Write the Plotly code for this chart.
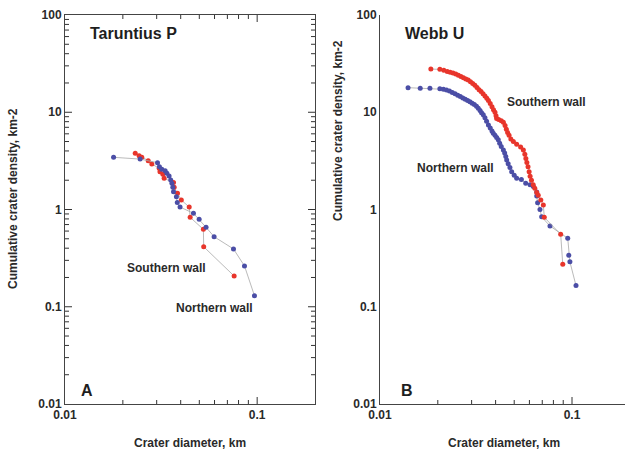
import plotly.graph_objects as go

# Panel A: Taruntius P
a_south_d = [0.0232, 0.0243, 0.0251, 0.0271, 0.0283, 0.0309, 0.0312, 0.0323, 0.0328,
             0.0367, 0.0370, 0.0385, 0.0403, 0.0443, 0.0448, 0.0525, 0.0527, 0.0759]
a_south_n = [3.78, 3.57, 3.44, 3.18, 2.94, 2.65, 2.45, 2.30, 2.09,
             1.89, 1.69, 1.47, 1.25, 1.06, 0.831, 0.625, 0.414, 0.207]
a_north_d = [0.0179, 0.0246, 0.0303, 0.0310, 0.0319, 0.0332, 0.0339, 0.0348, 0.0355,
             0.0360, 0.0364, 0.0367, 0.0380, 0.0384, 0.0397, 0.0466, 0.0499, 0.0542,
             0.0597, 0.0753, 0.0859, 0.0968]
a_north_n = [3.44, 3.30, 3.03, 2.75, 2.59, 2.51, 2.36, 2.21, 2.01,
             1.86, 1.69, 1.52, 1.35, 1.18, 1.06, 0.914, 0.793, 0.656,
             0.525, 0.393, 0.263, 0.130]

# Panel B: Webb U
b_south_d = [0.0184, 0.0205, 0.0215, 0.0224, 0.0232, 0.0240, 0.0248, 0.0256, 0.0264,
             0.0272, 0.0280, 0.0288, 0.0296, 0.0304, 0.0312, 0.0320, 0.0328, 0.0336,
             0.0344, 0.0352, 0.0360, 0.0367, 0.0375, 0.0383, 0.0390, 0.0397, 0.0402,
             0.0405, 0.0415, 0.0428, 0.0439, 0.0448, 0.0455, 0.0462, 0.0470, 0.0480,
             0.0495, 0.0515, 0.0540, 0.0558, 0.0568, 0.0575, 0.0582, 0.0590, 0.0598,
             0.0605, 0.0615, 0.0628, 0.0640, 0.0655, 0.0667, 0.0688, 0.0709, 0.0717,
             0.0873, 0.0895]
b_south_n = [27.8, 27.6, 27.0, 26.3, 25.8, 25.3, 24.8, 24.0, 23.3,
             22.6, 22.0, 21.4, 20.6, 19.8, 19.0, 18.0, 17.0, 16.3,
             15.5, 14.7, 13.9, 13.2, 12.3, 11.4, 10.6, 10.0, 9.2,
             8.6, 8.4, 8.2, 7.9, 7.3, 6.7, 6.2, 5.8, 5.3,
             5.0, 4.7, 4.4, 4.1, 3.7, 3.35, 3.05, 2.75, 2.45,
             2.2, 2.0, 1.80, 1.65, 1.50, 1.40, 1.25, 1.11, 0.83,
             0.556, 0.273]
b_north_d = [0.0140, 0.0162, 0.0182, 0.0205, 0.0214, 0.0222, 0.0230, 0.0238, 0.0246,
             0.0254, 0.0262, 0.0270, 0.0278, 0.0286, 0.0294, 0.0302, 0.0310, 0.0318,
             0.0325, 0.0332, 0.0338, 0.0345, 0.0352, 0.0359, 0.0367, 0.0375, 0.0383,
             0.0389, 0.0397, 0.0405, 0.0413, 0.0420, 0.0428, 0.0439, 0.0446, 0.0452,
             0.0457, 0.0465, 0.0475, 0.0485, 0.0500, 0.0515, 0.0545, 0.0574, 0.0605,
             0.0629, 0.0655, 0.0655, 0.0662, 0.0681, 0.0695, 0.0768, 0.0950, 0.0962,
             0.0975, 0.1049]
b_north_n = [17.9, 17.7, 17.6, 17.4, 17.2, 16.9, 16.5, 16.0, 15.5,
             15.0, 14.5, 14.0, 13.6, 13.2, 12.8, 12.4, 12.0, 11.5,
             11.0, 10.4, 9.9, 9.4, 8.8, 8.1, 7.4, 6.9, 6.4,
             6.1, 5.8, 5.5, 5.2, 4.8, 4.45, 4.1, 3.8, 3.5,
             3.23, 2.95, 2.7, 2.45, 2.25, 2.09, 2.03, 1.86, 1.80,
             1.72, 1.51, 1.38, 1.17, 1.00, 0.84, 0.676, 0.506, 0.338,
             0.29, 0.165]

y_ticks = [0.01, 0.1, 1, 10, 100]
y_tick_text = ["0.01", "0.1", "1", "10", "100"]
x_ticks = [0.01, 0.1]
x_tick_text = ["0.01", "0.1"]
y_minor = [m * 10.0 ** e for e in range(-2, 2) for m in range(2, 10)]
x_minor = [m * 0.01 for m in range(2, 10)]

RED = "#e8352b"
BLUE = "#4b4ea6"
LINE = "#a8a8a8"
AXIS = "#333333"
FONT = "Liberation Sans"

W, H = 625, 453


def px(x):
    return x / W


def py(y):
    return 1 - y / H


def series(d, n, color, xa, ya):
    return go.Scatter(
        x=d, y=n, mode="lines+markers", xaxis=xa, yaxis=ya, showlegend=False,
        line=dict(color=LINE, width=0.8),
        marker=dict(color=color, size=5),
    )


fig = go.Figure()
fig.add_trace(series(a_south_d, a_south_n, RED, "x", "y"))
fig.add_trace(series(a_north_d, a_north_n, BLUE, "x", "y"))
fig.add_trace(series(b_north_d, b_north_n, BLUE, "x2", "y2"))
fig.add_trace(series(b_south_d, b_south_n, RED, "x2", "y2"))

tick_font = dict(family=FONT, size=12, color="#2a2a2a", weight="bold")
ydom = [py(404), py(15)]
plot_h = 404 - 15

fig.update_layout(
    width=W, height=H,
    margin=dict(l=0, r=0, t=0, b=0),
    showlegend=False,
    paper_bgcolor="white", plot_bgcolor="white",
    xaxis=dict(type="log", range=[-2, -0.699], tickvals=x_ticks, ticktext=x_tick_text,
               ticks="", showline=True, linecolor="#444444", showgrid=False,
               domain=[px(65), px(315)], anchor="y", mirror=True,
               tickfont=tick_font, automargin=False),
    yaxis=dict(type="log", range=[-2, 2], tickvals=y_ticks, ticktext=y_tick_text,
               ticks="", showline=True, linecolor="#444444", showgrid=False,
               domain=ydom, anchor="x", mirror=True,
               tickfont=tick_font, automargin=False),
    xaxis2=dict(type="log", range=[-2, -0.724], tickvals=x_ticks, ticktext=x_tick_text,
                ticks="", showline=True, linecolor="#444444", showgrid=False,
                domain=[px(380), 1], anchor="y2", tickfont=tick_font, automargin=False),
    yaxis2=dict(type="log", range=[-2, 2], tickvals=y_ticks, ticktext=y_tick_text,
                ticks="", showline=True, linecolor="#444444", showgrid=False,
                domain=ydom, anchor="x2", tickfont=tick_font, automargin=False),
)


# inward tick marks, placed through the axes' own log scales
def x_tick_marks(xref, yref, values, length_px, mirror):
    frac = length_px / plot_h
    for v in values:
        fig.add_shape(type="line", xref=xref, yref=yref, x0=v, x1=v, y0=0, y1=frac,
                      line=dict(color=AXIS, width=1))
        if mirror:
            fig.add_shape(type="line", xref=xref, yref=yref, x0=v, x1=v, y0=1,
                          y1=1 - frac, line=dict(color=AXIS, width=1))


def y_tick_marks(xref, yref, values, length_px, width_px):
    frac = length_px / width_px
    for v in values:
        fig.add_shape(type="line", xref=xref, yref=yref, y0=v, y1=v, x0=0, x1=frac,
                      line=dict(color=AXIS, width=1))
        fig.add_shape(type="line", xref=xref, yref=yref, y0=v, y1=v, x0=1,
                      x1=1 - frac, line=dict(color=AXIS, width=1))


x_tick_marks("x", "y domain", x_ticks[1:], 7, True)
x_tick_marks("x", "y domain", x_minor, 4, True)
y_tick_marks("x domain", "y", y_ticks[1:-1], 7, 250)
y_tick_marks("x domain", "y", y_minor, 4, 250)
x_tick_marks("x2", "y2 domain", x_ticks[1:], 7, False)
x_tick_marks("x2", "y2 domain", x_minor, 4, False)

text_font = dict(family=FONT, size=12, color="#2a2a2a", weight="bold")
title_font = dict(family=FONT, size=16, color="#1e1e1e", weight="bold")

notes = [
    ("Taruntius P", 88, 33, title_font, "left", 0),
    ("Webb U", 403, 33, title_font, "left", 0),
    ("A", 79, 390, title_font, "left", 0),
    ("B", 399, 390, title_font, "left", 0),
    ("Southern wall", 166, 268, text_font, "center", 0),
    ("Northern wall", 214, 308, text_font, "center", 0),
    ("Southern wall", 546, 102, text_font, "center", 0),
    ("Northern wall", 455, 168, text_font, "center", 0),
    ("Crater diameter, km", 190, 443, text_font, "center", 0),
    ("Crater diameter, km", 504, 443, text_font, "center", 0),
    ("Cumulative crater density, km-2", 13, 199, text_font, "center", -90),
    ("Cumulative crater density, km-2", 338, 130, text_font, "center", -90),
]
for text, x, y, font, align, angle in notes:
    fig.add_annotation(
        text=text, x=px(x), y=py(y), xref="paper", yref="paper",
        xanchor=align, yanchor="middle", showarrow=False, font=font, textangle=angle,
    )

fig.write_html("out.html", config={"displayModeBar": False},
               post_script="document.body.style.margin = '0';")
